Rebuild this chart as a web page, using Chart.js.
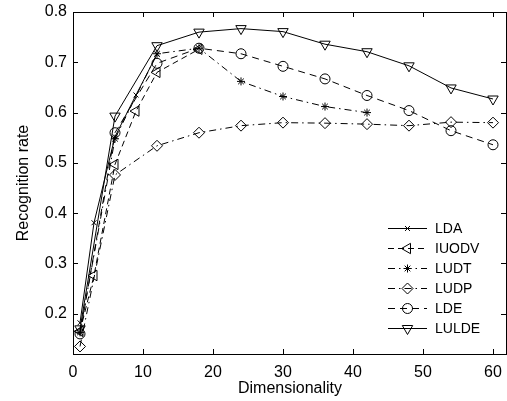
<!DOCTYPE html>
<html>
<head>
<meta charset="utf-8">
<script src="https://cdn.jsdelivr.net/npm/chart.js@4"></script>
<style>
  html, body { margin: 0; padding: 0; background: #fff; }
  #wrap { width: 507px; height: 401px; }
</style>
</head>
<body>
<div id="wrap"><canvas id="c" width="507" height="401"></canvas></div>
<script>
// values
const names = ["LDA", "IUODV", "LUDT", "LUDP", "LDE", "LULDE"];

const ldaX = [1, 3, 6, 9, 12];
const ldaY = [0.182, 0.381, 0.552, 0.635, 0.716];

const iuodvX = [1, 3, 6, 9, 12, 18];
const iuodvY = [0.165, 0.276, 0.497, 0.603, 0.680, 0.726];

const ludtX = [1, 6, 12, 18, 24, 30, 36, 42];
const ludtY = [0.163, 0.548, 0.717, 0.728, 0.662, 0.632, 0.612, 0.600];

const ludpX = [1, 6, 12, 18, 24, 30, 36, 42, 48, 54, 60];
const ludpY = [0.135, 0.476, 0.534, 0.560, 0.574, 0.580, 0.579, 0.577, 0.574, 0.581, 0.580];

const ldeX = [1, 6, 12, 18, 24, 30, 36, 42, 48, 54, 60];
const ldeY = [0.160, 0.560, 0.698, 0.728, 0.717, 0.692, 0.667, 0.634, 0.604, 0.564, 0.536];

const luldeX = [1, 6, 12, 18, 24, 30, 36, 42, 48, 54, 60];
const luldeY = [0.170, 0.593, 0.733, 0.760, 0.767, 0.761, 0.736, 0.721, 0.693, 0.649, 0.627];

const xTicks = [0, 10, 20, 30, 40, 50, 60];
const yTicks = [0.2, 0.3, 0.4, 0.5, 0.6, 0.7, 0.8];

const FONT = "'Liberation Sans', Arial, Helvetica, sans-serif";

function pts(xs, ys) {
  return xs.map((x, i) => ({ x: x, y: ys[i] }));
}

function series(label, xs, ys, dash, style, radius, rot) {
  return {
    label: label,
    data: pts(xs, ys),
    borderColor: "#000",
    borderWidth: 1,
    borderDash: dash,
    pointStyle: style,
    pointRadius: radius,
    pointRotation: rot,
    pointBorderColor: "#000",
    pointBackgroundColor: "rgba(0,0,0,0)",
    pointBorderWidth: 1,
    fill: false,
    tension: 0
  };
}

const datasets = [
  series(names[0], ldaX, ldaY, [], "crossRot", 3.5, 0),
  series(names[1], iuodvX, iuodvY, [6, 4], "triangle", 6, -90),
  series(names[2], ludtX, ludtY, [7, 4, 1.5, 4], "star", 4, 0),
  series(names[3], ludpX, ludpY, [7, 4, 1.5, 4], "rectRot", 5.5, 0),
  series(names[4], ldeX, ldeY, [7, 5], "circle", 5, 0),
  series(names[5], luldeX, luldeY, [], "triangle", 6, 180)
];

// box with inward ticks on all four sides, MATLAB style
const boxPlugin = {
  id: "box",
  afterDraw(chart) {
    const ctx = chart.ctx;
    const a = chart.chartArea;
    const xs = chart.scales.x, ys = chart.scales.y;
    const tl = 5;
    ctx.save();
    ctx.strokeStyle = "#000";
    ctx.lineWidth = 1;
    ctx.setLineDash([]);
    ctx.strokeRect(Math.round(a.left) + 0.5, Math.round(a.top) + 0.5,
      Math.round(a.right - a.left) - 1, Math.round(a.bottom - a.top));
    ctx.beginPath();
    xTicks.forEach(v => {
      const p = Math.round(xs.getPixelForValue(v)) + 0.5;
      ctx.moveTo(p, a.bottom); ctx.lineTo(p, a.bottom - tl);
      ctx.moveTo(p, a.top); ctx.lineTo(p, a.top + tl);
    });
    yTicks.forEach(v => {
      const p = Math.round(ys.getPixelForValue(v)) + 0.5;
      ctx.moveTo(a.left, p); ctx.lineTo(a.left + tl, p);
      ctx.moveTo(a.right - 1, p); ctx.lineTo(a.right - 1 - tl, p);
    });
    ctx.stroke();
    ctx.restore();
  }
};

// legend drawn inside the plot, bottom right
const legendPlugin = {
  id: "inLegend",
  afterDraw(chart) {
    const ctx = chart.ctx;
    const x0 = 388, x1 = 427, tx = 435;
    const y0 = 228, step = 20;
    ctx.save();
    chart.data.datasets.forEach((ds, i) => {
      const y = y0 + i * step;
      ctx.strokeStyle = "#000";
      ctx.lineWidth = 1;
      ctx.setLineDash(ds.borderDash);
      ctx.beginPath();
      ctx.moveTo(x0, y + 0.5);
      ctx.lineTo(x1, y + 0.5);
      ctx.stroke();
      ctx.setLineDash([]);
      if (Chart.helpers && Chart.helpers.drawPoint) {
        ctx.fillStyle = "rgba(0,0,0,0)";
        Chart.helpers.drawPoint(ctx, {
          pointStyle: ds.pointStyle,
          rotation: ds.pointRotation,
          radius: ds.pointRadius,
          borderWidth: 1
        }, (x0 + x1) / 2, y + 0.5);
      }
      ctx.fillStyle = "#000";
      ctx.font = "14px " + FONT;
      ctx.textBaseline = "middle";
      ctx.textAlign = "left";
      ctx.fillText(ds.label, tx, y + 1);
    });
    ctx.restore();
  }
};

new Chart(document.getElementById("c"), {
  type: "line",
  data: { datasets: datasets },
  plugins: [boxPlugin, legendPlugin],
  options: {
    responsive: false,
    animation: false,
    layout: { autoPadding: false, padding: { top: 12, right: 0, left: 0, bottom: 0 } },
    plugins: {
      legend: { display: false },
      tooltip: { enabled: false }
    },
    scales: {
      x: {
        type: "linear",
        min: 0,
        max: 62,
        afterBuildTicks: s => { s.ticks = xTicks.map(v => ({ value: v })); },
        afterFit: s => { s.height = 47; s.paddingLeft = 0; s.paddingRight = 0; },
        grid: { display: false, drawTicks: false },
        border: { display: false },
        ticks: {
          color: "#000",
          padding: 9,
          font: { family: FONT, size: 16 },
          callback: v => String(v)
        },
        title: {
          display: true,
          text: "Dimensionality",
          color: "#000",
          font: { family: FONT, size: 16 },
          padding: { top: 0, bottom: 3 }
        }
      },
      y: {
        type: "linear",
        min: 0.12,
        max: 0.8,
        afterBuildTicks: s => { s.ticks = yTicks.map(v => ({ value: v })); },
        afterFit: s => { s.width = 73; s.paddingTop = 0; s.paddingBottom = 0; },
        grid: { display: false, drawTicks: false },
        border: { display: false },
        ticks: {
          color: "#000",
          padding: 6,
          font: { family: FONT, size: 16 },
          callback: v => v.toFixed(1)
        },
        title: {
          display: true,
          text: "Recognition rate",
          color: "#000",
          font: { family: FONT, size: 16 },
          padding: { top: 14, bottom: 0 }
        }
      }
    }
  }
});
</script>
</body>
</html>
